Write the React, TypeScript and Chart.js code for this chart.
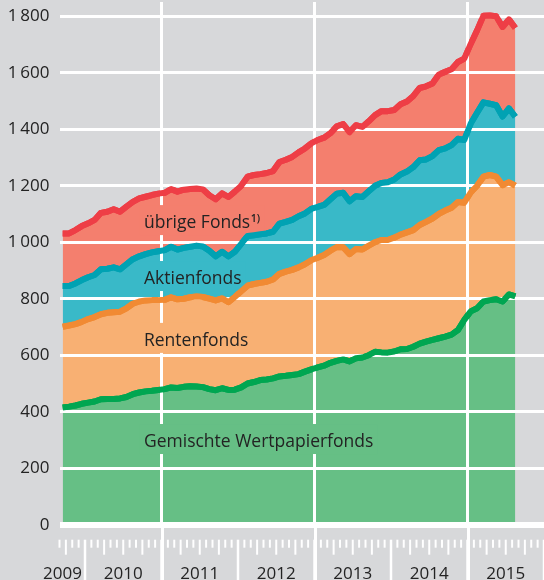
import React, { useEffect, useRef } from "react";
import { Chart, registerables } from "chart.js";

Chart.register(...registerables);

// ---- Data (Mrd €), monthly, Sep 2009 – Aug 2015 ----
const START_YEAR = 2009;
const START_MONTH = 9; // September
const AXIS_MONTHS = 76; // axis runs Sep 2009 – Dec 2015

const gemischte = [
  415, 418, 422, 428, 432, 436, 444, 445, 445, 447, 452, 462, 468, 472, 474, 477, 480, 486, 484, 488,
  490, 489, 487, 480, 476, 483, 477, 478, 486, 500, 505, 512, 514, 518, 525, 527, 530, 533, 542, 550,
  557, 563, 573, 580, 585, 578, 589, 592, 600, 612, 610, 609, 613, 621, 622, 630, 641, 648, 654, 660,
  666, 673, 689, 725, 755, 766, 790, 795, 798, 790, 815, 808,
];
const renten = [
  286, 287, 288, 290, 296, 299, 301, 305, 307, 307, 314, 320, 322, 322, 321, 318, 316, 319, 314, 312,
  315, 319, 319, 320, 318, 318, 311, 328, 340, 346, 347, 344, 346, 350, 363, 369, 372, 378, 380, 386,
  388, 392, 397, 403, 397, 380, 387, 382, 388, 388, 398, 399, 403, 406, 413, 413, 420, 424, 430, 440,
  446, 449, 453, 415, 421, 434, 442, 443, 434, 412, 397, 392,
];
const aktien = [
  144, 140, 144, 148, 148, 149, 159, 156, 159, 150, 156, 158, 160, 164, 169, 173, 176, 179, 176, 180,
  179, 180, 179, 170, 156, 165, 162, 160, 168, 176, 173, 172, 171, 169, 178, 176, 177, 181, 180, 182,
  180, 177, 182, 189, 193, 187, 187, 186, 192, 200, 202, 204, 206, 213, 215, 223, 229, 221, 221, 226,
  220, 222, 224, 222, 244, 258, 263, 252, 253, 243, 262, 244,
];
const uebrige = [
  186, 186, 189, 191, 191, 195, 200, 202, 206, 204, 204, 203, 205, 203, 203, 204, 203, 204, 205, 206,
  204, 202, 202, 196, 202, 207, 210, 213, 206, 210, 213, 213, 214, 215, 218, 220, 223, 226, 230, 232,
  237, 238, 234, 238, 243, 245, 251, 248, 248, 250, 254, 252, 246, 248, 248, 252, 256, 259, 257, 268,
  271, 268, 272, 288, 282, 292, 307, 313, 315, 317, 315, 314,
];

const seriesNames = ["Gemischte Wertpapierfonds", "Rentenfonds", "Aktienfonds", "übrige Fonds"];
const fillColors = ["#66bf85", "#f8b073", "#39b9c8", "#f47f6e"];
const lineColors = ["#00a651", "#f18a33", "#00a2b3", "#ee3e46"];

const yTickValues = [0, 200, 400, 600, 800, 1000, 1200, 1400, 1600, 1800];
const yearLabels = ["2009", "2010", "2011", "2012", "2013", "2014", "2015"];
const highlightedYears = [2011, 2013, 2015];

// in-chart series labels (anchor in data units: month index, value)
const labelAnchorMonth = 12.75;
const labelAnchorValues = [275, 633, 852, 1050];

const BG = "#d7d8da";
const TEXT = "#232323";
const FONT = "'Open Sans', 'Noto Sans', sans-serif";
const LABEL_SIZE = 17.5;

const monthLabels = Array.from({ length: AXIS_MONTHS }, (_, k) => {
  const t = START_MONTH - 1 + k;
  const m = (t % 12) + 1;
  const y = START_YEAR + Math.floor(t / 12);
  return `${String(m).padStart(2, "0")}/${y}`;
});

// boundary index (0 = start of first month) of January of a given year
const janBoundary = (year: number) => (year - START_YEAR) * 12 - (START_MONTH - 1);

const formatTick = (v: number) =>
  v >= 1000 ? `${Math.floor(v / 1000)}\u2009${String(v % 1000).padStart(3, "0")}` : String(v);

const decoPlugin = {
  id: "deco",
  afterDraw(chart: any) {
    const { ctx, chartArea } = chart;
    const xs = chart.scales.x;
    const ys = chart.scales.y;
    const H = chart.height;

    // series labels with knock-out boxes in the band colour
    ctx.save();
    ctx.textBaseline = "alphabetic";
    ctx.textAlign = "left";
    seriesNames.forEach((name, i) => {
      const x = xs.getPixelForValue(labelAnchorMonth);
      const y = ys.getPixelForValue(labelAnchorValues[i]);
      ctx.font = `${LABEL_SIZE}px ${FONT}`;
      const w = ctx.measureText(name).width;
      const sup = i === 3 ? "1)" : "";
      let supW = 0;
      if (sup) {
        ctx.font = `600 10.5px ${FONT}`;
        supW = ctx.measureText(sup).width + 1;
      }
      ctx.fillStyle = fillColors[i];
      ctx.fillRect(x - 4, y - 23, w + supW + 8, 30);
      ctx.fillStyle = TEXT;
      ctx.font = `${LABEL_SIZE}px ${FONT}`;
      ctx.fillText(name, x, y);
      if (sup) {
        ctx.font = `600 10.5px ${FONT}`;
        ctx.fillText(sup, x + w + 0.5, y - 6.5);
      }
    });
    ctx.restore();

    // series lines on top of the white grid
    const metas = chart.getSortedVisibleDatasetMetas();
    for (let i = metas.length - 1; i >= 0; i--) {
      metas[i].dataset.draw(ctx, chartArea);
    }

    // month tick marks
    const tickTop = chartArea.bottom + 15;
    ctx.save();
    ctx.strokeStyle = "#ffffff";
    for (let b = 0; b <= AXIS_MONTHS; b++) {
      const x = xs.getPixelForValue(b - 0.5);
      const monthIdx = (START_MONTH - 1 + b) % 12;
      let y2 = tickTop + 8;
      if (monthIdx === 0) y2 = H;
      else if (monthIdx % 3 === 0) y2 = tickTop + 15;
      ctx.lineWidth = monthIdx === 0 ? 2.5 : 2;
      ctx.beginPath();
      ctx.moveTo(x, tickTop);
      ctx.lineTo(x, y2);
      ctx.stroke();
    }
    // extend highlighted year lines below the plot
    ctx.lineWidth = 3;
    highlightedYears.forEach((yr) => {
      const x = Math.round(xs.getPixelForValue(janBoundary(yr) - 0.5)) + 0.5;
      ctx.beginPath();
      ctx.moveTo(x, chartArea.bottom);
      ctx.lineTo(x, H);
      ctx.stroke();
    });
    // year labels
    ctx.font = `17px ${FONT}`;
    ctx.fillStyle = TEXT;
    ctx.textBaseline = "alphabetic";
    yearLabels.forEach((label) => {
      const yr = Number(label);
      if (janBoundary(yr) < 0) {
        ctx.textAlign = "right";
        ctx.fillText(label, xs.getPixelForValue(janBoundary(yr + 1) - 0.5) - 3, chartArea.bottom + 54);
      } else {
        ctx.textAlign = "center";
        ctx.fillText(label, xs.getPixelForValue(janBoundary(yr) + 6 - 0.5), chartArea.bottom + 54);
      }
    });
    ctx.restore();
  },
};

export default function App() {
  const canvasRef = useRef<HTMLCanvasElement | null>(null);

  useEffect(() => {
    if (!canvasRef.current) return;
    const seriesData = [gemischte, renten, aktien, uebrige];
    const highlightIdx = highlightedYears.map(janBoundary);
    const chart = new Chart(canvasRef.current, {
      type: "line",
      data: {
        labels: monthLabels,
        datasets: seriesData.map((d, i) => ({
          label: seriesNames[i],
          data: d,
          borderColor: lineColors[i],
          backgroundColor: fillColors[i],
          borderWidth: 6,
          borderJoinStyle: "round" as const,
          pointRadius: 0,
          pointHoverRadius: 0,
          tension: 0,
          fill: i === 0 ? "origin" : "-1",
        })),
      },
      options: {
        animation: false,
        responsive: true,
        maintainAspectRatio: false,
        devicePixelRatio: 1,
        events: [],
        layout: { padding: { top: 2.1, left: 0, right: 0, bottom: 0 } },
        plugins: {
          legend: { display: false },
          tooltip: { enabled: false },
        },
        scales: {
          x: {
            type: "category",
            offset: true,
            border: { display: false },
            grid: {
              z: 1,
              offset: true,
              drawTicks: false,
              lineWidth: 3,
              color: (c: any) => (highlightIdx.includes(c.index) ? "#ffffff" : "rgba(0,0,0,0)"),
            },
            ticks: { display: false },
            afterFit: (s: any) => {
              s.height = 55.3;
              s.paddingLeft = 0;
              s.paddingRight = 0;
            },
          },
          y: {
            stacked: true,
            min: 0,
            max: 1850,
            border: { display: false },
            grid: {
              z: 1,
              drawTicks: false,
              color: "#ffffff",
              lineWidth: (c: any) => (c.tick && c.tick.value === 0 ? 6 : 3),
            },
            afterBuildTicks: (s: any) => {
              s.ticks = yTickValues.map((v) => ({ value: v }));
            },
            ticks: {
              padding: 10,
              color: TEXT,
              font: { family: FONT, size: 17 },
              callback: (v: any) => formatTick(Number(v)),
            },
            afterFit: (s: any) => {
              s.width = 59.5;
              s.paddingTop = 0;
              s.paddingBottom = 0;
            },
          },
        },
      },
      plugins: [decoPlugin],
    });
    return () => chart.destroy();
  }, []);

  return (
    <div style={{ position: "fixed", left: 0, top: 0, width: 544, height: 580, background: BG }}>
      <canvas ref={canvasRef} />
    </div>
  );
}
